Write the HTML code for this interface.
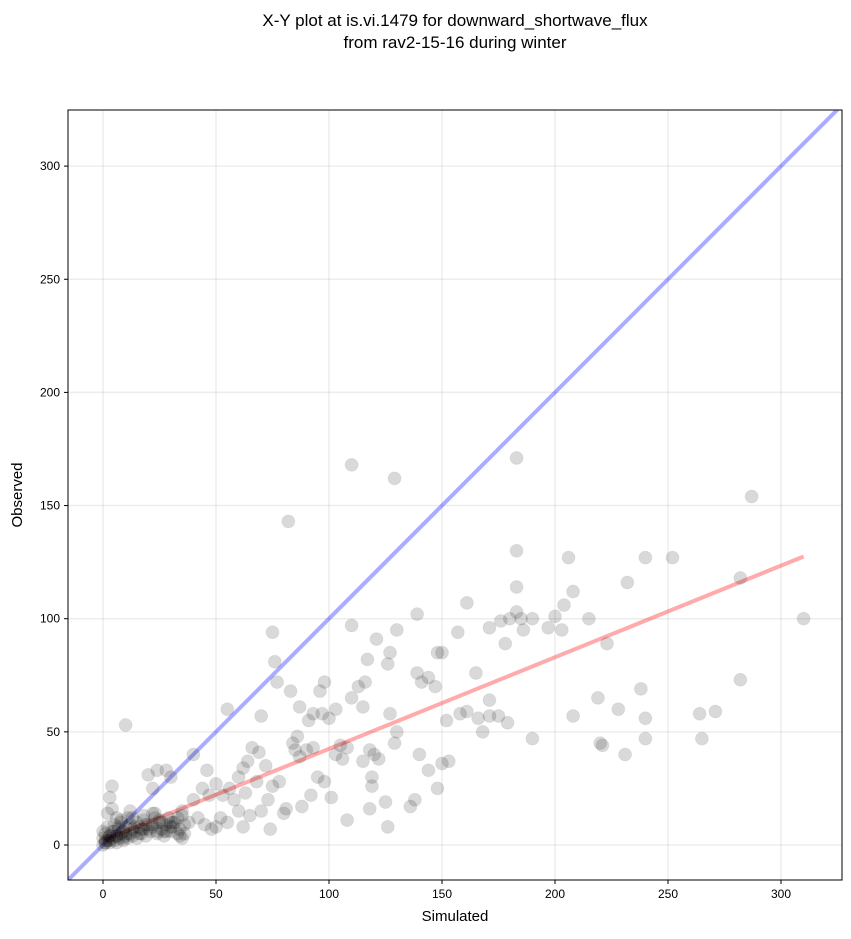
<!DOCTYPE html>
<html><head><meta charset="utf-8"><style>
body{margin:0;background:#fff;font-family:"Liberation Sans","DejaVu Sans",sans-serif;}
svg text{font-family:"Liberation Sans","DejaVu Sans",sans-serif;}
</style></head><body>
<svg id="chart" width="851" height="934">
<text x="455" y="26" text-anchor="middle" font-size="17">X-Y plot at is.vi.1479 for downward_shortwave_flux</text>
<text x="455" y="48" text-anchor="middle" font-size="17">from rav2-15-16 during winter</text>
<g id="grid"></g>
<g id="lines"></g>
<g id="points"></g>
<rect x="68" y="110" width="774" height="770" fill="none" stroke="#000" stroke-width="1"/>
<g id="ticks"></g>
<text x="455" y="921" text-anchor="middle" font-size="15">Simulated</text>
<text transform="translate(22,495) rotate(-90)" text-anchor="middle" font-size="15">Observed</text>
</svg>
<script>
const xTicks=[0,50,100,150,200,250,300];
const yTicks=[0,50,100,150,200,250,300];
const fitLine=[[0,2],[310,127.5]];
const simX=[110,129,183,82,287,183,206,240,252,282,232,208,183,161,204,139,110,157,75,171,176,180,185,190,183,186,197,200,203,215,310,223,178,165,130,121,127,117,126,76,148,150,139,141,144,147,98,77,116,113,110,115,83,96,282,238,219,208,228,264,271,240,265,240,190,220,221,231,171,166,168,171,175,179,158,161,152,153,150,144,148,140,138,136,125,126,108,87,91,93,97,100,103,129,130,127,120,122,118,115,119,119,118,105,108,103,106,95,98,101,92,88,81,80,86,84,85,87,90,93,55,70,66,69,72,60,62,64,40,46,10,4,3,20,24,28,22,30,50,53,56,58,60,55,50,48,52,65,70,74,73,75,78,68,63,62,45,42,38,35,36,30,33,35,40,44,47,26,24,22,
0,0,1,1,2,2,3,3,4,4,5,5,6,6,7,7,8,8,9,9,10,10,11,11,12,12,13,13,14,15,15,16,17,18,18,19,20,21,22,23,24,25,26,27,28,29,30,31,32,33,34,35,36,2,3,5,6,8,9,12,14,16,18,20,22,25,28,31,34,1,4,7,10,13,17,19,23,27,30,0,1,3,6];
const obsY=[168,162,171,143,154,130,127,127,127,118,116,112,114,107,106,102,97,94,94,96,99,100,100,100,103,95,96,101,95,100,100,89,89,76,95,91,85,82,80,81,85,85,76,72,74,70,72,72,72,70,65,61,68,68,73,69,65,57,60,58,59,56,47,47,47,45,44,40,64,56,50,57,57,54,58,59,55,37,36,33,25,40,20,17,19,8,11,61,55,58,58,56,60,45,50,58,40,38,42,37,30,26,16,44,43,40,38,30,28,21,22,17,16,14,48,45,42,39,42,43,60,57,43,41,35,30,34,37,40,33,53,26,21,31,33,33,25,30,27,22,25,20,15,10,8,7,12,13,15,7,20,26,28,28,23,8,9,12,10,3,5,8,12,15,20,25,22,10,6,14,
0,3,1,5,2,8,1,4,3,6,2,9,4,12,3,7,5,10,2,6,4,8,3,12,5,9,4,7,6,10,3,8,5,11,7,4,9,6,8,12,5,10,7,4,9,12,6,8,10,5,7,13,9,14,2,6,4,11,3,15,8,5,13,7,9,11,6,10,4,1,16,8,5,12,7,9,14,6,10,6,2,4,1];
const X0=103,XS=2.26,Y0=845,YS=2.263;
const sx=v=>X0+v*XS, sy=v=>Y0-v*YS;
const NS="http://www.w3.org/2000/svg";
function mk(tag,attrs,parent){const e=document.createElementNS(NS,tag);for(const k in attrs)e.setAttribute(k,attrs[k]);parent.appendChild(e);return e;}
const grid=document.getElementById('grid'),ticks=document.getElementById('ticks');
xTicks.forEach(t=>{
 const g=mk('line',{x1:sx(t),x2:sx(t),y1:110,y2:880,stroke:'#000','stroke-opacity':0.07,'stroke-width':1.5},grid);
 
 
 const tk=mk('line',{x1:sx(t),x2:sx(t),y1:880,y2:884,stroke:'#000'},ticks);
 
 
 const tx=mk('text',{x:sx(t),y:898,'text-anchor':'middle','font-size':12},ticks);tx.textContent=t;
 
 
});
yTicks.forEach(t=>{
 const g=mk('line',{x1:68,x2:842,y1:sy(t),y2:sy(t),stroke:'#000','stroke-opacity':0.07,'stroke-width':1.5},grid);
 
 
 const tk=mk('line',{x1:64,x2:68,y1:sy(t),y2:sy(t),stroke:'#000'},ticks);
 
 
 const tx=mk('text',{x:60,y:sy(t)+4,'text-anchor':'end','font-size':12},ticks);tx.textContent=t;
 
 
});
const pts=document.getElementById('points');
for(let i=0;i<simX.length;i++){
 const c=mk('circle',{cx:sx(simX[i]),cy:sy(obsY[i]),r:6.5,fill:'#000','fill-opacity':0.15,stroke:'#000','stroke-opacity':0.05},pts);
 
 
}
const lines=document.getElementById('lines');
const cp=mk('clipPath',{id:'clip'},lines);mk('rect',{x:68,y:110,width:774,height:770},cp);
const one=mk('line',{x1:sx(-20),y1:sy(-20),x2:sx(340),y2:sy(340),stroke:'#0000ff','stroke-opacity':0.33,'stroke-width':4,'clip-path':'url(#clip)'},lines);


const fit=mk('line',{x1:sx(fitLine[0][0]),y1:sy(fitLine[0][1]),x2:sx(fitLine[1][0]),y2:sy(fitLine[1][1]),stroke:'#ff0000','stroke-opacity':0.33,'stroke-width':4},lines);


</script>
</body></html>
